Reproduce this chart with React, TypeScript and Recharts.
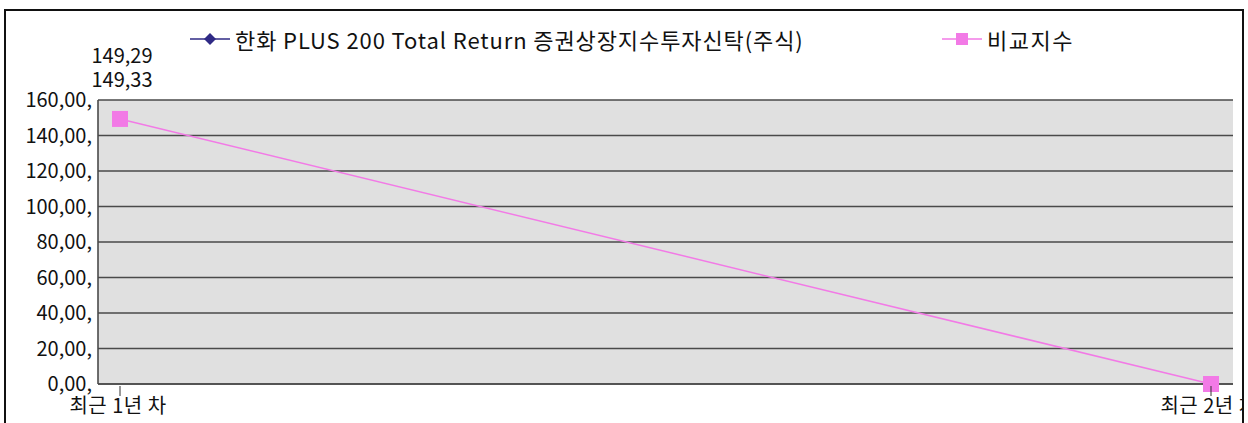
import React from "react"
import { LineChart, Line, XAxis, YAxis, CartesianGrid, LabelList } from "recharts"

const periods = ["최근 1년 차", "최근 2년 차"]
const fundValues: (number | null)[] = [149.29, null]
const benchValues: (number | null)[] = [149.33, 0]
const yTicks = [0, 20, 40, 60, 80, 100, 120, 140, 160]
const seriesNames = ["한화 PLUS 200 Total Return 증권상장지수투자신탁(주식)", "비교지수"]

const FONT = '"Noto Sans CJK KR", "Noto Sans", sans-serif'
const NAVY = "#2f2a85"
const PINK = "#f27ae6"
const GRID = "#4a4a4a"

const data = periods.map((p, i) => ({ period: p, fund: fundValues[i], bench: benchValues[i] }))

const fmt = (v: number) => v.toFixed(2).replace(".", ",")

function YTick(props: any) {
  const { x, y, payload } = props
  return (
    <text x={x + 2} y={y + 7} textAnchor="end" fontSize={20} fill="#111" fontFamily={FONT}>
      {fmt(payload.value) + ","}
    </text>
  )
}

function XTick(props: any) {
  const { x, y, payload } = props
  return (
    <g>
      <line x1={x} x2={x} y1={y - 6} y2={y + 4} stroke="#333" strokeWidth={1} />
      <text x={x - 2} y={y + 21} textAnchor="middle" fontSize={20} letterSpacing={0.5} fill="#111" fontFamily={FONT}>
        {payload.value}
      </text>
    </g>
  )
}

function Diamond(props: any) {
  const { cx, cy } = props
  if (cx == null || cy == null) return null
  return <path d={`M${cx},${cy - 6} L${cx + 6},${cy} L${cx},${cy + 6} L${cx - 6},${cy} Z`} fill={NAVY} />
}

function Square(props: any) {
  const { cx, cy } = props
  if (cx == null || cy == null) return null
  return <rect x={cx - 8} y={cy - 8} width={16} height={16} fill={PINK} />
}

// labels sit stacked above the plot like the original
function makeLabel(dy: number) {
  return (props: any) => {
    const { x, y, value, index } = props
    if (index !== 0 || value == null) return null
    return (
      <text x={x + 2} y={y + dy} textAnchor="middle" fontSize={20} fill="#111" fontFamily={FONT}>
        {fmt(value)}
      </text>
    )
  }
}

export default function App() {
  return (
    <div style={{ position: "relative", width: 1248, height: 423, overflow: "hidden", background: "#fff", fontFamily: FONT }}>
      <style>{`body{margin:0}`}</style>
      <div style={{ position: "absolute", left: 0, top: 0, width: 1243, height: 423, overflow: "hidden" }}>
        <LineChart width={1248} height={423} data={data} margin={{ top: 100, right: 15, bottom: 0, left: 0 }}>
          <CartesianGrid vertical={false} fill="#e0e0e0" stroke={GRID} strokeWidth={1.6} />
          <XAxis
            dataKey="period"
            height={39}
            padding={{ left: 22, right: 22 }}
            axisLine={{ stroke: GRID, strokeWidth: 1.6 }}
            tickLine={false}
            tick={<XTick />}
            interval={0}
          />
          <YAxis
            width={98}
            domain={[0, 160]}
            ticks={yTicks}
            axisLine={{ stroke: GRID, strokeWidth: 1.6 }}
            tickLine={false}
            tick={<YTick />}
          />
          <Line dataKey="fund" name={seriesNames[0]} stroke={NAVY} strokeWidth={1.5} dot={<Diamond />} isAnimationActive={false}>
            <LabelList dataKey="fund" content={makeLabel(-56)} />
          </Line>
          <Line dataKey="bench" name={seriesNames[1]} stroke={PINK} strokeWidth={1.5} dot={<Square />} isAnimationActive={false}>
            <LabelList dataKey="bench" content={makeLabel(-32)} />
          </Line>
        </LineChart>
      </div>
      <div style={{ position: "absolute", left: 4, top: 9, width: 1240, height: 480, border: "2px solid #111", boxSizing: "border-box", pointerEvents: "none" }} />
      <div style={{ position: "absolute", left: 190, top: 24, height: 30, display: "flex", alignItems: "center", fontSize: 22, letterSpacing: 0.9, color: "#111", whiteSpace: "nowrap" }}>
        <svg width={40} height={14} style={{ marginRight: 5 }}>
          <line x1={0} x2={40} y1={7} y2={7} stroke={NAVY} strokeWidth={1.5} />
          <path d="M20,1 L26,7 L20,13 L14,7 Z" fill={NAVY} />
        </svg>
        {seriesNames[0]}
      </div>
      <div style={{ position: "absolute", left: 942, top: 24, height: 30, display: "flex", alignItems: "center", fontSize: 22, letterSpacing: 1.5, color: "#111", whiteSpace: "nowrap" }}>
        <svg width={40} height={14} style={{ marginRight: 5 }}>
          <line x1={0} x2={40} y1={7} y2={7} stroke={PINK} strokeWidth={1.5} />
          <rect x={14} y={1} width={12} height={12} fill={PINK} />
        </svg>
        {seriesNames[1]}
      </div>
    </div>
  )
}
